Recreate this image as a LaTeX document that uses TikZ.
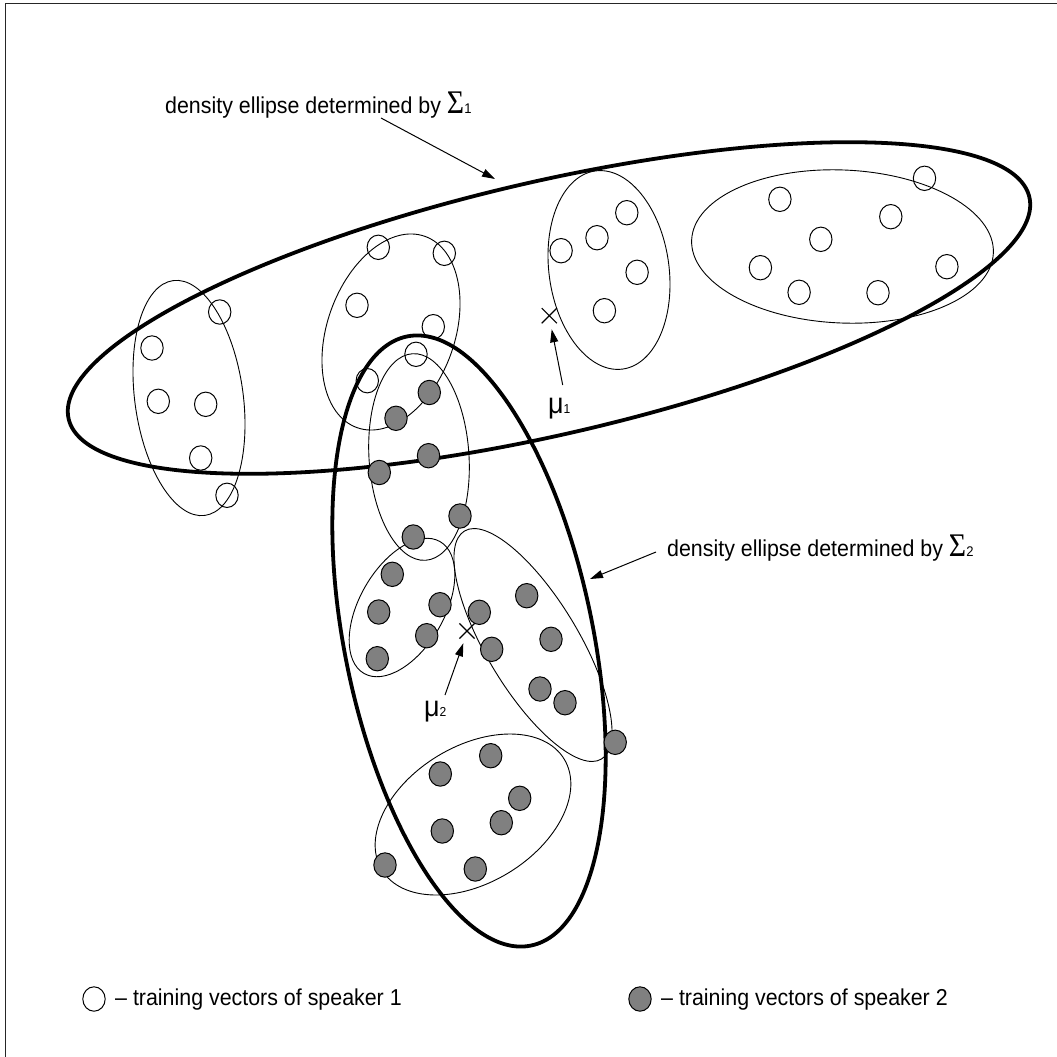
\documentclass[tikz,border=0pt]{standalone}
\usepackage{fontspec}
\setmainfont{Liberation Sans}[FakeStretch=0.93]
\newfontfamily\symfont{Liberation Serif}[FakeStretch=0.9]
\usetikzlibrary{shapes.geometric,shapes.misc,arrows.meta}
\begin{document}
\begin{tikzpicture}[x=1pt,y=-1pt,
  bigell/.style={draw, ellipse, line width=3.8pt, inner sep=0pt, outer sep=0pt},
  clus/.style={draw, ellipse, line width=0.9pt, inner sep=0pt, outer sep=0pt},
  vw/.style={draw, ellipse, line width=1pt, minimum width=22.4pt, minimum height=24.4pt, inner sep=0pt},
  vg/.style={vw, fill=gray},
  arr/.style={-{Triangle[length=13pt,width=8pt]}, line width=1pt},
  meanx/.style={draw, cross out, minimum size=14pt, inner sep=0pt, line width=1.2pt},
  lbl/.style={anchor=base west, inner sep=0pt, font=\fontsize{23}{27}\selectfont}
]
\useasboundingbox (0,0) rectangle (1057,1057);
% frame
\draw[line width=1pt, black!85] (5,1057) -- (5,4) -- (1057,4);

% density ellipses
\node[bigell, minimum width=986pt, minimum height=253pt, rotate=13] (E1) at (549,308) {};
\node[bigell, minimum width=248.6pt, minimum height=621.6pt, rotate=11.5] (E2) at (469,641) {};

% clusters
\node[clus, minimum width=108.4pt, minimum height=237pt, rotate=7.7] (CA) at (189,398) {};
\node[clus, minimum width=127.6pt, minimum height=203pt, rotate=-19.5] (CB) at (391,332) {};
\node[clus, minimum width=120pt, minimum height=200pt, rotate=7.9] (CC) at (609,270) {};
\node[clus, minimum width=302pt, minimum height=153pt, rotate=-2.5] (CD) at (842.5,246.5) {};
\node[clus, minimum width=100pt, minimum height=207pt, rotate=3.6] (CE) at (419,457) {};
\node[clus, minimum width=84.6pt, minimum height=152.2pt, rotate=-30] (CF) at (402,607.5) {};
\node[clus, minimum width=92pt, minimum height=266pt, rotate=31] (CG) at (533,645) {};
\node[clus, minimum width=213.4pt, minimum height=136.6pt, rotate=31.3] (CH) at (473,814.5) {};

% speaker 1 vectors
\foreach \p [count=\i] in {(219.7,312),(152,348),(158.3,401.3),(205.7,404.3),(200.7,458),(227,495.3),
  (378.3,247.3),(444.3,253.3),(357,305.3),(433.3,326.7),(416,354.3),(367.3,380.7),
  (626.8,212.7),(597,237.7),(561.1,250.7),(637.1,272.3),(604.4,310.7),
  (779.9,199.3),(924.5,178.3),(890.8,216.7),(820.8,239.3),(760.4,267.7),(946.9,266.7),(799.1,292.3),(878,292.7)}
  \node[vw] (w\i) at \p {};

% speaker 2 vectors
\foreach \p [count=\i] in {(429.3,392.5),(396,418.3),(428.5,455.7),(379.3,472.5),(460,516),(413.3,537),
  (392.3,574.3),(378.7,612),(440,604.7),(426.7,635.7),(377.3,658.7),
  (479.3,612.3),(526.7,595.7),(491.7,649.3),(551,639.3),(540,689),(565,702.7),(615.2,742.3),
  (490.7,755.7),(440.3,774),(519.7,798.3),(501.3,822.7),(442.3,831),(475.3,869),(385,865)}
  \node[vg] (g\i) at \p {};

% means
\node[meanx] (X1) at (549.3,315.7) {};
\node[meanx] (X2) at (467,631) {};

% labels
\node[lbl] (L1) at (165,113) {density ellipse determined by {\symfont\fontsize{33}{33}\selectfont Σ}{\fontsize{14}{14}\selectfont 1}};
\node[lbl] (L2) at (667,556.7) {density ellipse determined by {\symfont\fontsize{33}{33}\selectfont Σ}{\fontsize{14}{14}\selectfont 2}};
\node[anchor=base west, inner sep=0pt] (M1) at (548,413) {{\fontsize{29}{29}\selectfont μ}{\fontsize{13}{13}\selectfont 1}};
\node[anchor=base west, inner sep=0pt] (M2) at (424,716.5) {{\fontsize{29}{29}\selectfont μ}{\fontsize{13}{13}\selectfont 2}};

% arrows
\coordinate (a1s) at (381,118);
\coordinate (a1e) at (495,179);
\coordinate (a2s) at (656,552);
\coordinate (a2e) at (590,579);
\coordinate (m1s) at (562.7,385);
\coordinate (m1e) at (551.7,329.3);
\coordinate (m2s) at (445,695);
\coordinate (m2e) at (463.3,643.3);
\draw[arr] (a1s) -- (a1e);
\draw[arr] (a2s) -- (a2e);
\draw[arr] (m1s) -- (m1e);
\draw[arr] (m2s) -- (m2e);

% legend
\node[vw] (LW) at (94,999) {};
\node[lbl] (LT1) at (115,1005) {– training vectors of speaker 1};
\node[vg] (LG) at (640,999) {};
\node[lbl] (LT2) at (661,1005) {– training vectors of speaker 2};
\end{tikzpicture}
\end{document}
